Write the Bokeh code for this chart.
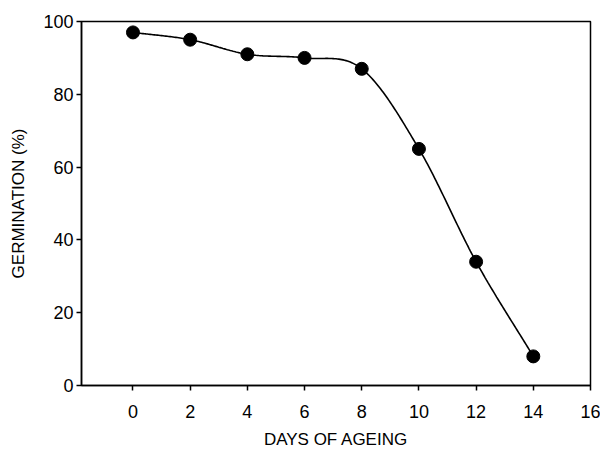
import numpy as np
from bokeh.plotting import figure
from bokeh.models import Range1d, FixedTicker
from bokeh.embed import file_html
from bokeh.resources import INLINE

# Data
days = [0, 2, 4, 6, 8, 10, 12, 14]
germination = [97, 95, 91, 90, 87, 65, 34, 8]
x_ticks = [0, 2, 4, 6, 8, 10, 12, 14, 16]
y_ticks = [0, 20, 40, 60, 80, 100]


def cardinal_spline(x, y, n=40):
    """Smooth curve through the data points (Catmull-Rom style tangents)."""
    x = np.asarray(x, float)
    y = np.asarray(y, float)
    h = np.diff(x)
    m = np.zeros_like(y)
    m[0] = (y[1] - y[0]) / (x[1] - x[0])
    m[-1] = (y[-1] - y[-2]) / (x[-1] - x[-2])
    for k in range(1, len(x) - 1):
        m[k] = (y[k + 1] - y[k - 1]) / (x[k + 1] - x[k - 1])
    xs, ys = [], []
    for k in range(len(x) - 1):
        t = np.linspace(0, 1, n, endpoint=(k == len(x) - 2))
        h00 = 2 * t**3 - 3 * t**2 + 1
        h10 = t**3 - 2 * t**2 + t
        h01 = -2 * t**3 + 3 * t**2
        h11 = t**3 - t**2
        xs.extend(x[k] + t * h[k])
        ys.extend(h00 * y[k] + h10 * h[k] * m[k] + h01 * y[k + 1] + h11 * h[k] * m[k + 1])
    return xs, ys


cx, cy = cardinal_spline(days, germination)

p = figure(width=600, height=451, output_backend="svg", toolbar_location=None,
           x_range=Range1d(-1.8, 16), y_range=Range1d(0, 100),
           min_border_left=81, min_border_top=21, min_border_right=10, min_border_bottom=66)

p.line(cx, cy, line_color="black", line_width=1.6)
p.scatter(days, germination, size=13, fill_color="black", line_color="black")

p.xgrid.visible = False
p.ygrid.visible = False
p.outline_line_color = "black"
p.outline_line_width = 1.5
p.outline_line_alpha = 1

font = "Liberation Sans"
for ax in (p.xaxis[0], p.yaxis[0]):
    ax.axis_line_color = "black"
    ax.axis_line_width = 1.5
    ax.major_tick_line_color = "black"
    ax.major_tick_line_width = 1.5
    ax.major_tick_in = 0
    ax.major_tick_out = 5
    ax.minor_tick_line_color = None
    ax.major_label_text_font = font
    ax.major_label_text_font_size = "18px"
    ax.major_label_text_color = "black"
    ax.axis_label_text_font = font
    ax.axis_label_text_font_size = "17px"
    ax.axis_label_text_font_style = "normal"
    ax.axis_label_text_color = "black"

p.xaxis[0].ticker = FixedTicker(ticks=x_ticks)
p.yaxis[0].ticker = FixedTicker(ticks=y_ticks)
p.xaxis[0].axis_label = "DAYS OF AGEING"
p.yaxis[0].axis_label = "GERMINATION (%)"
p.xaxis[0].major_label_standoff = 14
p.xaxis[0].axis_label_standoff = 9
p.yaxis[0].major_label_standoff = 3
p.yaxis[0].axis_label_standoff = 12

open("out.html", "w").write(file_html(p, INLINE))
